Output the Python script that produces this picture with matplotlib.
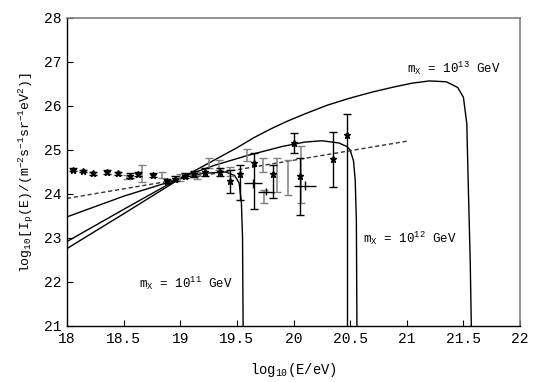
import matplotlib
matplotlib.use("Agg")
import matplotlib.pyplot as plt
import numpy as np

plt.rcParams['font.family'] = ['Liberation Mono', 'DejaVu Sans Mono']
plt.rcParams['mathtext.fontset'] = 'custom'
plt.rcParams['mathtext.rm'] = 'Liberation Mono'
plt.rcParams['mathtext.it'] = 'Liberation Mono'

# Model curves
m11_x = [18.0, 18.5, 19.0, 19.2, 19.4, 19.48, 19.52, 19.54, 19.55, 19.555]
m11_y = [23.48, 23.95, 24.35, 24.47, 24.50, 24.42, 24.25, 23.8, 23.0, 21.0]

m12_x = [18.0, 18.5, 19.0, 19.3, 19.6, 19.9, 20.1, 20.25, 20.4, 20.47, 20.5, 20.53, 20.545, 20.555, 20.56]
m12_y = [22.92, 23.65, 24.37, 24.65, 24.88, 25.08, 25.18, 25.21, 25.16, 25.08, 25.0, 24.75, 24.3, 23.4, 21.0]

m13_x = [18.0, 18.5, 19.0, 19.5, 19.65, 19.8, 19.95, 20.1, 20.3, 20.5, 20.7, 20.9, 21.05, 21.2,
         21.35, 21.45, 21.5, 21.53, 21.545, 21.56, 21.57]
m13_y = [22.76, 23.55, 24.35, 25.05, 25.28, 25.48, 25.66, 25.82, 26.02, 26.18, 26.32, 26.44, 26.52, 26.57,
         26.55, 26.42, 26.2, 25.6, 24.0, 22.5, 21.0]

dash_x = [18.0, 21.0]
dash_y = [23.9, 25.2]

# Data set 1 (black, markers)
b_x = [18.05, 18.14, 18.23, 18.35, 18.45, 18.56, 18.63, 18.76, 18.88, 18.95, 19.04, 19.12,
       19.22, 19.35, 19.44, 19.53, 19.65, 19.82, 20.00, 20.06, 20.35, 20.47]
b_y = [24.55, 24.52, 24.47, 24.50, 24.47, 24.42, 24.45, 24.43, 24.30, 24.35, 24.42, 24.45,
       24.50, 24.50, 24.30, 24.45, 24.70, 24.45, 25.16, 24.40, 24.80, 25.34]
b_lo = [0.03, 0.03, 0.03, 0.05, 0.04, 0.05, 0.05, 0.05, 0.05, 0.06, 0.06, 0.07,
        0.08, 0.08, 0.27, 0.59, 1.04, 0.55, 0.23, 0.88, 0.63, 4.6]
b_hi = [0.03, 0.03, 0.03, 0.05, 0.04, 0.05, 0.05, 0.05, 0.05, 0.06, 0.06, 0.07,
        0.08, 0.08, 0.25, 0.21, 0.23, 0.21, 0.23, 0.42, 0.62, 0.48]

# Black points with horizontal bars
h_x = [19.64, 19.76, 20.10]
h_y = [24.24, 24.05, 24.19]
h_xerr = [0.08, 0.07, 0.10]
h_yerr = [0.10, 0.08, 0.10]

# Data set 2 (grey)
g_x = [18.53, 18.66, 18.84, 19.00, 19.15, 19.25, 19.34, 19.44, 19.59, 19.73, 19.74, 19.85, 19.95, 20.07]
g_y = [24.39, 24.47, 24.43, 24.38, 24.43, 24.70, 24.66, 24.51, 24.89, 24.66, 23.95, 24.43, 24.37, 24.45]
g_err = [0.05, 0.19, 0.07, 0.08, 0.08, 0.12, 0.12, 0.10, 0.13, 0.15, 0.15, 0.38, 0.40, 0.65]

x_ticks = [18, 18.5, 19, 19.5, 20, 20.5, 21, 21.5, 22]
x_labels = ["18", "18.5", "19", "19.5", "20", "20.5", "21", "21.5", "22"]
y_ticks = [21, 22, 23, 24, 25, 26, 27, 28]

fig = plt.figure(figsize=(5.5, 3.82), dpi=100)
ax = fig.add_axes([0.1218, 0.1466, 0.8237, 0.8063])

lw = 1.0
ax.plot(m11_x, m11_y, color='black', lw=lw)
ax.plot(m12_x, m12_y, color='black', lw=lw)
ax.plot(m13_x, m13_y, color='black', lw=lw)
ax.plot(dash_x, dash_y, color='#333333', lw=lw, dashes=(3, 2))

ax.errorbar(g_x, g_y, yerr=g_err, fmt='none', ecolor='#808080', elinewidth=1.1, capsize=3, capthick=1)
ax.errorbar(b_x, b_y, yerr=[b_lo, b_hi], fmt='*', color='black', ms=4.5, ecolor='black',
            elinewidth=1.0, capsize=3, capthick=1)
ax.errorbar(h_x, h_y, xerr=h_xerr, yerr=h_yerr, fmt='none', ecolor='black', elinewidth=1.0, capsize=0)

ax.set_xlim(18, 22)
ax.set_ylim(21, 28)
ax.set_xticks(x_ticks)
ax.set_xticklabels(x_labels)
ax.set_yticks(y_ticks)
ax.tick_params(direction='in', length=4, labelsize=10.5, width=0.8, pad=4)

for s in ['top', 'right']:
    ax.spines[s].set_color('#808080')
    ax.spines[s].set_linewidth(1.2)
for s in ['left', 'bottom']:
    ax.spines[s].set_color('black')
    ax.spines[s].set_linewidth(1.0)

ax.set_xlabel(r'log$_{10}$(E/eV)', fontsize=10, labelpad=11)
ax.set_ylabel(r'log$_{10}$[I$_{\rm p}$(E)/(m$^{-2}$s$^{-1}$sr$^{-1}$eV$^{2}$)]', fontsize=9.5, labelpad=6)

ax.text(21.0, 26.86, r'm$_{\rm X}$ = 10$^{13}$ GeV', fontsize=9, va='center', ha='left')
ax.text(20.61, 23.0, r'm$_{\rm X}$ = 10$^{12}$ GeV', fontsize=9, va='center', ha='left')
ax.text(18.64, 21.98, r'm$_{\rm X}$ = 10$^{11}$ GeV', fontsize=9, va='center', ha='left')

fig.savefig('out.png', dpi=100)
